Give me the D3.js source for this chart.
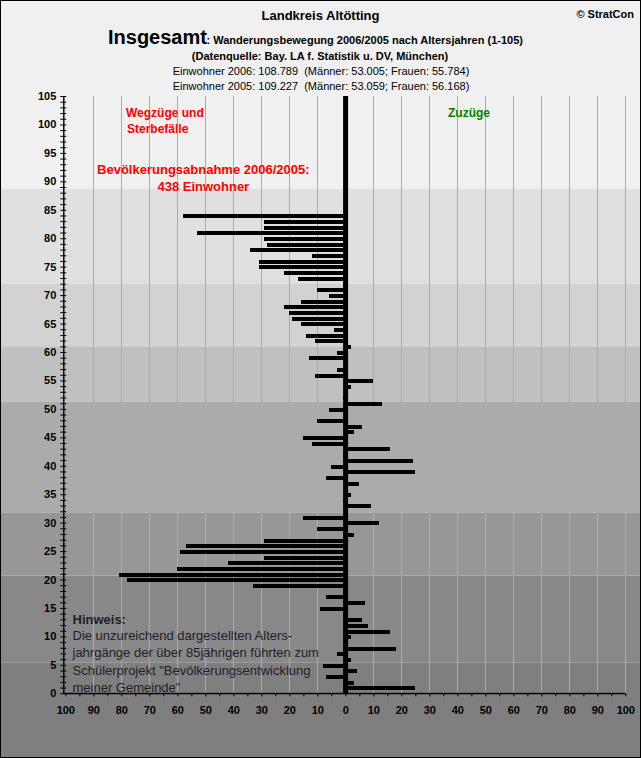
<!DOCTYPE html>
<html>
<head>
<meta charset="utf-8">
<script src="https://cdn.jsdelivr.net/npm/d3@7"></script>
<style>
body { margin: 0; background: #fff; }
text { font-family: Arial, "Liberation Sans", sans-serif; }
</style>
</head>
<body>
<div id="chart"></div>
<script>

// net change per age (1..105), left = Wegzüge/Sterbefälle, right = Zuzüge
var ages = d3.range(1, 106);
var netValues = [
  25, 3, -7, 4, -8, 2, -3, 18, 0, 2,
  16, 8, 6, -1, -9, 7, -7, -1, -33, -78,
  -81, -60, -42, -29, -59, -57, -29, 3, -10, 12,
  -15, 0, 9, -1, 2, 0, 5, -7, 25, -5,
  24, -1, 16, -12, -15, 3, 6, -10, 0, -6,
  13, -1, 0, 2, 10, -11, -3, 0, -13, -3,
  2, -11, -14, -4, -16, -19, -20, -22, -16, -6,
  -10, -1, -17, -22, -31, -31, -12, -34, -28, -29,
  -53, -29, -29, -58, 0, 0, 0, 0, 0, 0,
  0, 0, 0, 0, 0, 0, 0, 0, 0, 0,
  0, 0, 0, 0, 0
];

var ageTicks = d3.range(0, 106, 1);
var ageLabels = d3.range(0, 106, 5);
var popTicks = d3.range(-100, 101, 5);
var gridValues = d3.range(-90, 101, 10).filter(d => d !== 0);

// background stripes (lower edge of each stripe, in years)
var bandEdges = [88.7, 72.0, 61.0, 51.3, 31.8, 20.7, 5.45];
var bandColors = ['#f0f0f0', '#e0e0e0', '#d2d2d2', '#c0c0c0', '#ababab', '#979797', '#888888', '#7f7f7f'];

var headerLines = [
  'Einwohner 2006: 108.789  (Männer: 53.005; Frauen: 55.784)',
  'Einwohner 2005: 109.227  (Männer: 53.059; Frauen: 56.168)'
];
var noteLines = [
  'Die unzureichend dargestellten Alters-',
  'jahrgänge der über 85jährigen führten zum',
  'Schülerprojekt "Bevölkerungsentwicklung',
  'meiner Gemeinde"'
];

var W = 641, H = 758;

var svg = d3.select('#chart').append('svg')
    .attr('width', W)
    .attr('height', H);

var s_age = d3.scaleLinear().domain([0, 105]).range([693.3, 96]);
var s_pop = d3.scaleLinear().domain([-100, 100]).range([65.3, 625.3]);
var axisX = s_pop(-100) - 2;

// stripes
var tops = [0].concat(bandEdges.map(d => s_age(d)));
var bottoms = bandEdges.map(d => s_age(d)).concat([H]);
svg.append('g').selectAll('rect')
    .data(bandColors)
    .enter()
    .append('rect')
    .attr('x', 0)
    .attr('width', W)
    .attr('y', (d, i) => tops[i])
    .attr('height', (d, i) => bottoms[i] - tops[i])
    .attr('fill', d => d);

// cyan grid
svg.append('g').selectAll('line')
    .data(gridValues)
    .enter()
    .append('line')
    .attr('x1', d => Math.round(s_pop(d)) + 0.5)
    .attr('x2', d => Math.round(s_pop(d)) + 0.5)
    .attr('y1', s_age(105))
    .attr('y2', s_age(0))
    .attr('stroke', '#33dde6')
    .attr('stroke-width', 1);

// bars
svg.append('g').selectAll('rect')
    .data(netValues)
    .enter()
    .append('rect')
    .attr('x', d => d < 0 ? s_pop(d) : s_pop(0))
    .attr('width', d => Math.abs(s_pop(d) - s_pop(0)))
    .attr('y', (d, i) => s_age(ages[i]) + 0.8 - 2)
    .attr('height', 4)
    .attr('fill', '#000')
    .attr('shape-rendering', 'crispEdges');

// thick zero line
svg.append('rect')
    .attr('x', s_pop(0) - 2.2)
    .attr('width', 5)
    .attr('y', s_age(105))
    .attr('height', s_age(0) - s_age(105))
    .attr('fill', '#000');

// age axis, ticks on both sides
var ax_age_l = d3.axisLeft(s_age)
    .tickValues(ageTicks)
    .tickSize(3)
    .tickSizeOuter(0)
    .tickPadding(4)
    .tickFormat(d => d % 5 === 0 ? d : '');

var ax_age_r = d3.axisRight(s_age)
    .tickValues(ageTicks)
    .tickSize(3)
    .tickSizeOuter(0)
    .tickFormat(d => '');

var gl = svg.append('g')
    .attr('transform', `translate(${axisX},0)`)
    .call(ax_age_l);
gl.selectAll('text')
    .style('font', 'bold 11px Arial, "Liberation Sans", sans-serif')
    .attr('fill', '#000');

svg.append('g')
    .attr('transform', `translate(${axisX},0)`)
    .call(ax_age_r);

// population axis
var ax_pop = d3.axisBottom(s_pop)
    .tickValues(popTicks)
    .tickSize(3)
    .tickSizeOuter(0)
    .tickPadding(10)
    .tickFormat(d => d % 10 === 0 ? Math.abs(d) : '');

var gb = svg.append('g')
    .attr('transform', `translate(0,${s_age(0)})`)
    .call(ax_pop);
gb.selectAll('text')
    .style('font', 'bold 11px Arial, "Liberation Sans", sans-serif')
    .attr('fill', '#000');

svg.append('line')
    .attr('x1', axisX).attr('x2', s_pop(100))
    .attr('y1', s_age(0)).attr('y2', s_age(0))
    .attr('stroke', '#000');

svg.selectAll('.domain').attr('stroke', '#000');
svg.selectAll('.tick line').attr('stroke', '#000');

// header
function txt(x, y, s, font, anchor, color) {
    return svg.append('text')
        .attr('x', x).attr('y', y)
        .attr('text-anchor', anchor || 'start')
        .style('font', font + ' Arial, "Liberation Sans", sans-serif')
        .style('white-space', 'pre')
        .attr('fill', color || '#000')
        .text(s);
}

txt(320.5, 20, 'Landkreis Altötting', 'bold 13px', 'middle');
txt(634, 18, '© StratCon', 'bold 11px', 'end');
txt(108, 44, 'Insgesamt', 'bold 20px');
txt(206.5, 44, ': Wanderungsbewegung 2006/2005 nach Altersjahren (1-105)', 'bold 11px');
txt(320, 60, '(Datenquelle: Bay. LA f. Statistik u. DV, München)', 'bold 11px', 'middle');
headerLines.forEach((s, i) => txt(321, 75 + i * 15, s, '11px', 'middle'));

// labels in the plot
txt(126, 116.5, 'Wegzüge und', 'bold 12px', 'start', '#ff0000');
txt(127, 132.5, 'Sterbefälle', 'bold 12px', 'start', '#ff0000');
txt(469, 116.5, 'Zuzüge', 'bold 12px', 'middle', '#008000');
txt(203.3, 173.5, 'Bevölkerungsabnahme 2006/2005:', 'bold 13px', 'middle', '#ff0000');
txt(203.3, 190.5, '438 Einwohner', 'bold 13px', 'middle', '#ff0000');

// note
txt(72.5, 623.5, 'Hinweis:', 'bold 13px', 'start', '#1e1e28');
noteLines.forEach((s, i) => txt(72.5, 640 + i * 17.4, s, '13px', 'start', '#1e1e28'));

// frame
svg.append('rect')
    .attr('x', 0.5).attr('y', 0.5)
    .attr('width', W - 1).attr('height', H - 1)
    .attr('fill', 'none')
    .attr('stroke', '#000');

</script>
</body>
</html>
